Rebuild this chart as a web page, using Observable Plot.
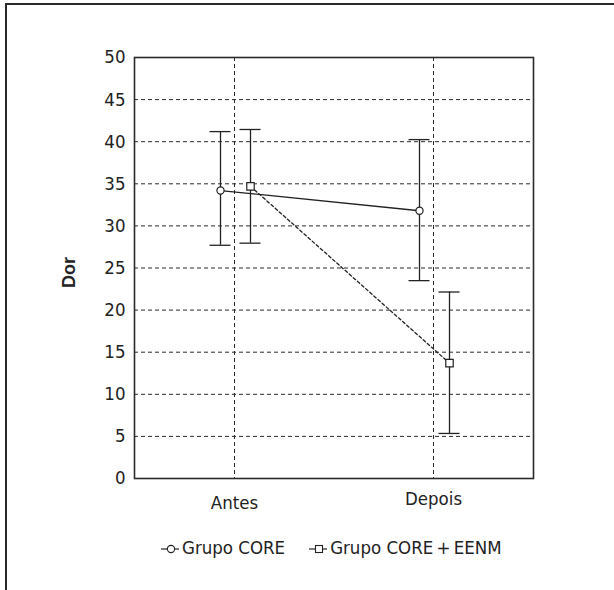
<!DOCTYPE html>
<html>
<head>
<meta charset="utf-8">
<script src="https://cdn.jsdelivr.net/npm/d3@7"></script>
<script src="https://cdn.jsdelivr.net/npm/@observablehq/plot@0.6"></script>
<style>
  html, body { margin: 0; padding: 0; background: #fff; }
  #wrap { position: relative; width: 614px; height: 590px; overflow: hidden; background: #fff;
          font-family: "DejaVu Sans Condensed", sans-serif; color: #222; }
  #borderTop { position: absolute; left: 5px; top: 3px; width: 609px; height: 0; border-top: 2px solid #2a2a2a; }
  #borderLeft { position: absolute; left: 5px; top: 3px; width: 0; height: 587px; border-left: 2px solid #2a2a2a; }
  #chart { position: absolute; left: 0; top: 0; }
  #legend { position: absolute; left: 159px; top: 537px; display: flex; align-items: center; font-size: 18.5px; white-space: nowrap; }
  .item { display: flex; align-items: center; margin-right: 22px; }
  .item svg { margin-right: 1px; }
</style>
</head>
<body>
<div id="wrap">
  <div id="borderTop"></div>
  <div id="borderLeft"></div>
  <div id="chart"></div>
  <div id="legend"></div>
</div>
<script>
const times = ["Antes", "Depois"];
const groups = ["Grupo CORE", "Grupo CORE+EENM"];
const legendLabels = ["Grupo CORE", "Grupo CORE\u2009+\u2009EENM"];
const coreMean = [34.2, 31.8];
const coreLow = [27.7, 23.5];
const coreHigh = [41.2, 40.25];
const eenmMean = [34.7, 13.7];
const eenmLow = [27.95, 5.35];
const eenmHigh = [41.45, 22.15];
const yTicks = [0, 5, 10, 15, 20, 25, 30, 35, 40, 45, 50];
const gridTicks = [5, 10, 15, 20, 25, 30, 35, 40, 45];
const yLabel = "Dor";

const core = times.map((t, i) => ({time: t, mean: coreMean[i], lo: coreLow[i], hi: coreHigh[i]}));
const eenm = times.map((t, i) => ({time: t, mean: eenmMean[i], lo: eenmLow[i], hi: eenmHigh[i]}));

const ink = "#222";
const font = '"DejaVu Sans Condensed", sans-serif';
const capInset = 9.5;

function seriesMarks(data, dx, dash, symbol, r) {
  return [
    Plot.ruleX(data, {x: "time", y1: "lo", y2: "hi", dx, stroke: ink, strokeWidth: 1.3}),
    Plot.tickY(data, {x: "time", y: "hi", dx, insetLeft: capInset, insetRight: capInset, stroke: ink, strokeWidth: 1.3}),
    Plot.tickY(data, {x: "time", y: "lo", dx, insetLeft: capInset, insetRight: capInset, stroke: ink, strokeWidth: 1.3}),
    Plot.line(data, {x: "time", y: "mean", dx, stroke: ink, strokeWidth: 1.3, strokeDasharray: dash}),
    Plot.dot(data, {x: "time", y: "mean", dx, symbol, r, fill: "white", stroke: ink, strokeWidth: 1.2})
  ];
}

const chart = Plot.plot({
  width: 614,
  height: 525,
  marginLeft: 134,
  marginRight: 81,
  marginTop: 57,
  marginBottom: 47,
  style: {fontFamily: font, fontSize: "18.5px", color: ink, background: "transparent"},
  x: {type: "band", domain: times, paddingInner: 0.8, paddingOuter: 0.4},
  y: {domain: [0, 50]},
  marks: [
    Plot.gridY(gridTicks, {stroke: "#2a2a2a", strokeOpacity: 1, strokeDasharray: "4,3", strokeWidth: 1}),
    Plot.gridX(times, {stroke: "#2a2a2a", strokeOpacity: 1, strokeDasharray: "4,3", strokeWidth: 1}),
    Plot.frame({stroke: "#2a2a2a", strokeWidth: 1.6}),
    Plot.axisY(yTicks, {tickSize: 0, tickPadding: 9, label: null}),
    Plot.axisX([times[0]], {tickSize: 0, tickPadding: 17, label: null}),
    Plot.axisX([times[1]], {tickSize: 0, tickPadding: 13, label: null}),
    Plot.text([yLabel], {text: d => d, frameAnchor: "left", rotate: -90, dx: -65, dy: 20, fontWeight: "bold", fontSize: "18px", fontFamily: "Liberation Sans, Arial, sans-serif", fill: ink}),
    ...seriesMarks(core, -14, null, "circle", 3.6),
    ...seriesMarks(eenm, 16, "3,2.5", "square", 4.2)
  ]
});
document.getElementById("chart").appendChild(chart);

// legend
const legend = document.getElementById("legend");
const symbols = ["circle", "square"];
groups.forEach((g, i) => {
  const item = document.createElement("div");
  item.className = "item";
  const s = d3.create("svg").attr("width", 22).attr("height", 20);
  s.append("line").attr("x1", 2).attr("x2", 20).attr("y1", 11).attr("y2", 11).attr("stroke", ink).attr("stroke-width", 1.2);
  if (symbols[i] === "circle") {
    s.append("circle").attr("cx", 12).attr("cy", 11).attr("r", 3.6).attr("fill", "white").attr("stroke", ink).attr("stroke-width", 1.1);
  } else {
    s.append("rect").attr("x", 8.5).attr("y", 7.5).attr("width", 7).attr("height", 7).attr("fill", "white").attr("stroke", ink).attr("stroke-width", 1.1);
  }
  item.appendChild(s.node());
  const t = document.createElement("span");
  t.textContent = legendLabels[i];
  item.appendChild(t);
  legend.appendChild(item);
});
</script>
</body>
</html>
